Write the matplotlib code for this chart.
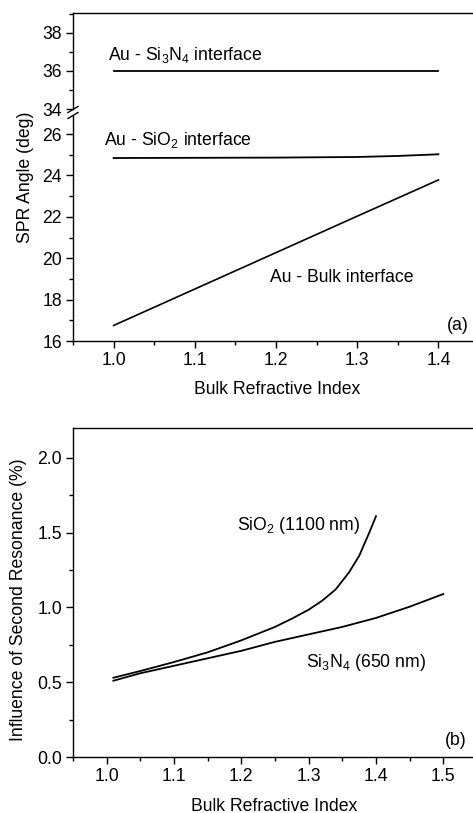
import matplotlib
matplotlib.use('Agg')
import matplotlib.pyplot as plt
from matplotlib.lines import Line2D
from matplotlib.ticker import MultipleLocator

plt.rcParams['font.family'] = ['Liberation Sans', 'DejaVu Sans']
plt.rcParams['mathtext.default'] = 'regular'
FS = 12.7
plt.rcParams['font.size'] = FS

# (a) SPR angle vs bulk refractive index
n_a = [1.0, 1.1, 1.2, 1.3, 1.35, 1.4]
si3n4_angle = [36.0, 36.0, 36.0, 36.0, 36.0, 36.0]
sio2_angle = [24.84, 24.85, 24.86, 24.89, 24.94, 25.02]
n_bulk = [1.0, 1.1, 1.2, 1.3, 1.4]
bulk_angle = [16.75, 18.51, 20.27, 22.03, 23.78]

# (b) influence of second resonance
n_sio2 = [1.01, 1.05, 1.10, 1.15, 1.20, 1.25, 1.275, 1.30, 1.32, 1.34, 1.36, 1.375, 1.39, 1.40]
sio2_infl = [0.53, 0.575, 0.635, 0.70, 0.78, 0.87, 0.925, 0.985, 1.045, 1.12, 1.235, 1.345, 1.50, 1.61]
n_si3n4 = [1.01, 1.05, 1.10, 1.15, 1.20, 1.25, 1.30, 1.35, 1.40, 1.45, 1.50]
si3n4_infl = [0.51, 0.56, 0.61, 0.66, 0.71, 0.77, 0.82, 0.87, 0.93, 1.005, 1.09]

W, H = 473, 813
fig = plt.figure(figsize=(W / 100, H / 100), dpi=100)


def box(l, t, r, b):
    return [l / W, 1 - b / H, (r - l) / W, (b - t) / H]


def style(ax):
    ax.tick_params(which='both', direction='out', width=1, pad=3)
    ax.tick_params(which='major', length=5)
    ax.tick_params(which='minor', length=3)
    for s in ax.spines.values():
        s.set_linewidth(1)


ax_up = fig.add_axes(box(73, 13, 479, 109))
ax_lo = fig.add_axes(box(73, 116, 479, 341))

ax_up.plot(n_a, si3n4_angle, color='black', lw=1.3)
ax_lo.plot(n_a, sio2_angle, color='black', lw=1.3)
ax_lo.plot(n_bulk, bulk_angle, color='black', lw=1.2)

for ax in (ax_up, ax_lo):
    ax.set_xlim(0.95, 1.45)
    ax.xaxis.set_major_locator(MultipleLocator(0.1))
    ax.xaxis.set_minor_locator(MultipleLocator(0.05))
    style(ax)

ax_up.set_ylim(34, 39.05)
ax_up.yaxis.set_major_locator(MultipleLocator(2))
ax_up.yaxis.set_minor_locator(MultipleLocator(1))
ax_up.spines['bottom'].set_visible(False)
ax_up.tick_params(axis='x', which='both', bottom=False, labelbottom=False)

ax_lo.set_ylim(16, 26.87)
ax_lo.yaxis.set_major_locator(MultipleLocator(2))
ax_lo.yaxis.set_minor_locator(MultipleLocator(1))
ax_lo.spines['top'].set_visible(False)
ax_lo.set_xticks([1.0, 1.1, 1.2, 1.3, 1.4])
ax_lo.set_xticklabels(['1.0', '1.1', '1.2', '1.3', '1.4'])

# axis break marks
for yb in (109.5, 115.5):
    fig.add_artist(Line2D([(73 - 5) / W, (73 + 5) / W],
                          [1 - (yb + 3) / H, 1 - (yb - 3) / H],
                          color='black', lw=1))

ax_up.text(0.993, 36.58, 'Au - Si$_3$N$_4$ interface')
ax_lo.text(0.988, 25.47, 'Au - SiO$_2$ interface')
ax_lo.text(1.192, 18.85, 'Au - Bulk interface')
ax_lo.text(1.437, 16.55, '(a)', ha='right')

fig.text(26 / W, 1 - 177 / H, 'SPR Angle (deg)', rotation=90,
         ha='center', va='center')
fig.text(277 / W, 1 - 390 / H, 'Bulk Refractive Index',
         ha='center', va='center')

# (b)
ax_b = fig.add_axes(box(73, 428, 477, 757))
ax_b.plot(n_sio2, sio2_infl, color='black', lw=1.3)
ax_b.plot(n_si3n4, si3n4_infl, color='black', lw=1.3)
ax_b.set_xlim(0.95, 1.55)
ax_b.set_ylim(0, 2.2)
ax_b.xaxis.set_major_locator(MultipleLocator(0.1))
ax_b.xaxis.set_minor_locator(MultipleLocator(0.05))
ax_b.yaxis.set_major_locator(MultipleLocator(0.5))
ax_b.yaxis.set_minor_locator(MultipleLocator(0.25))
ax_b.set_xticks([1.0, 1.1, 1.2, 1.3, 1.4, 1.5])
ax_b.set_xticklabels(['1.0', '1.1', '1.2', '1.3', '1.4', '1.5'])
ax_b.set_yticks([0.0, 0.5, 1.0, 1.5, 2.0])
ax_b.set_yticklabels(['0.0', '0.5', '1.0', '1.5', '2.0'])
style(ax_b)

ax_b.text(1.193, 1.52, 'SiO$_2$ (1100 nm)')
ax_b.text(1.296, 0.60, 'Si$_3$N$_4$ (650 nm)')
ax_b.text(1.535, 0.08, '(b)', ha='right')

fig.text(19 / W, 1 - 600 / H, 'Influence of Second Resonance (%)', rotation=90,
         ha='center', va='center')
fig.text(274 / W, 1 - 806 / H, 'Bulk Refractive Index',
         ha='center', va='center')

fig.savefig('out.png', dpi=100)
